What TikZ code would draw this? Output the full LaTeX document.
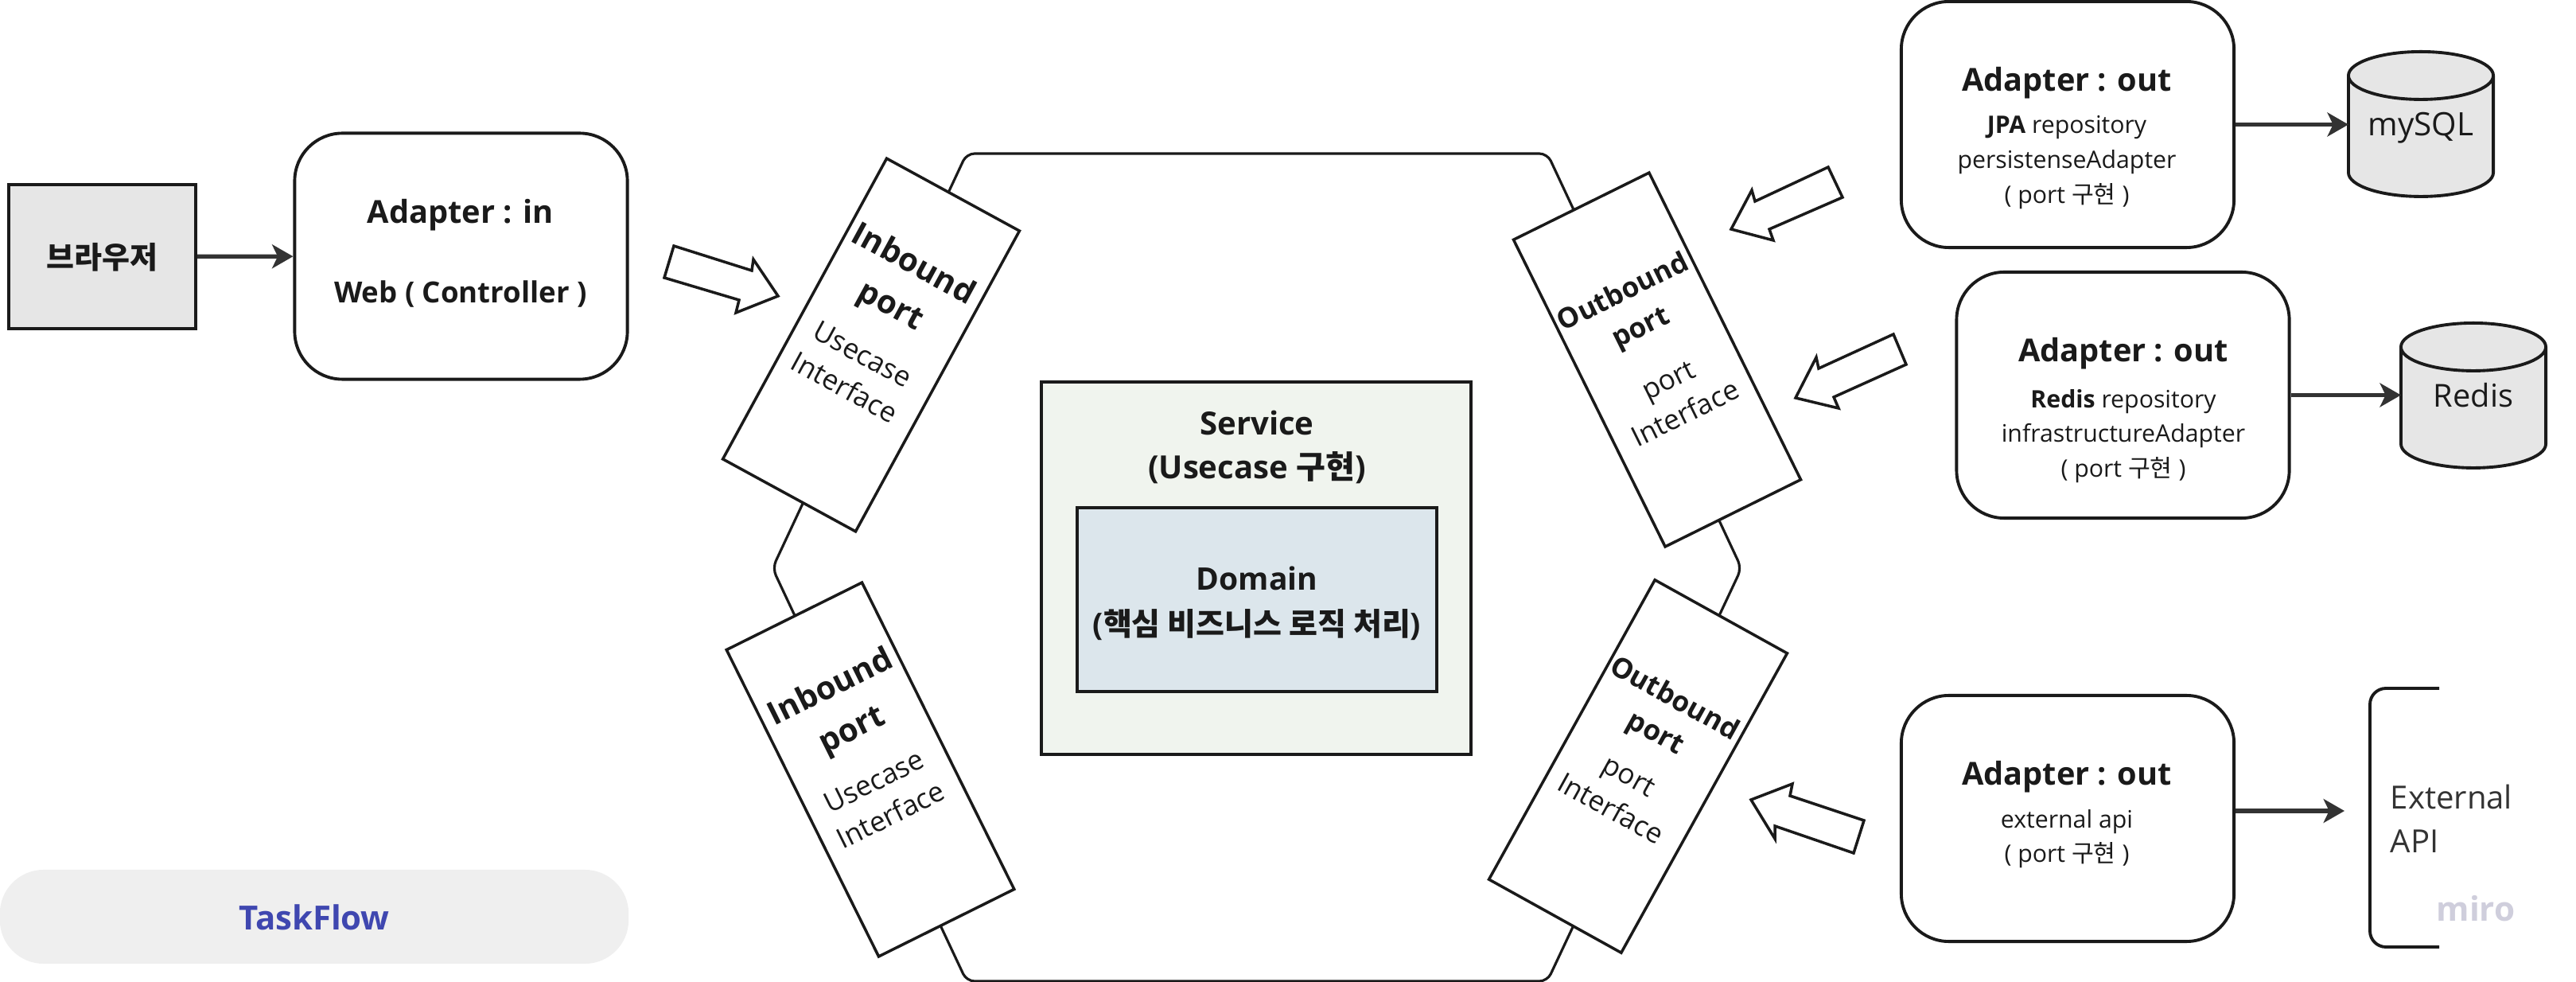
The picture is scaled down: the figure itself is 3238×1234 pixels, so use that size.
\documentclass[tikz,border=0pt]{standalone}
\usepackage{fontspec}
\setmainfont{Open Sans}
\newfontfamily\krfont{Noto Sans CJK KR}
\newcommand{\kr}[1]{{\krfont #1}}
\usetikzlibrary{arrows.meta}
\definecolor{inkgray}{HTML}{1A1A1A}
\definecolor{linegray}{HTML}{333333}
\definecolor{boxgray}{HTML}{E6E6E6}
\definecolor{servicefill}{HTML}{F0F4EE}
\definecolor{domainfill}{HTML}{DCE6EC}
\definecolor{pillfill}{HTML}{EFEFEF}
\definecolor{pilltext}{HTML}{3F47B0}
\definecolor{mirotext}{HTML}{CFCEDC}
\tikzset{
    adapterbox/.style={draw=inkgray, line width=1.1pt, fill=white, rounded corners=0.6cm,
        minimum width=4.18cm, minimum height=3.09cm, inner sep=0pt},
    portbox/.style={draw=inkgray, line width=1pt, fill=white,
        minimum width=1.9cm, minimum height=4.3cm, inner sep=0pt},
    flatbox/.style={draw=inkgray, line width=1.1pt, inner sep=0pt},
    dbspot/.style={minimum width=1.82cm, minimum height=1.82cm, inner sep=0pt, outer sep=0pt},
    dbline/.style={draw=inkgray, line width=1.1pt},
    headtext/.style={text=inkgray, inner sep=0pt, font=\fontsize{11.3}{15}\selectfont\bfseries},
    subtext/.style={text=inkgray, inner sep=0pt, align=center, font=\fontsize{8.6}{12.4}\selectfont},
    portbold/.style={text=inkgray, inner sep=0pt, align=center, font=\fontsize{11.5}{17}\selectfont\bfseries},
    portplain/.style={text=inkgray, inner sep=0pt, align=center, font=\fontsize{10}{13.5}\selectfont},
    link/.style={draw=linegray, line width=1.5pt, -{Stealth[length=7.5pt,width=8.5pt,inset=2pt]}},
    hollow/.style={draw=inkgray, line width=1pt, fill=white, line join=miter},
}
\begin{document}
\begin{tikzpicture}[x=0.01cm, y=-0.01cm]
    \useasboundingbox (0,0) rectangle (3238,1234);

    % hexagon
    \draw[draw=inkgray, line width=0.9pt, rounded corners=0.1cm]
        (1215,193) -- (1945,193) -- (2189,714) -- (1945,1233) -- (1215,1233) -- (971,714) -- cycle;

    % browser and inbound adapter
    \node[flatbox, fill=boxgray, minimum width=2.35cm, minimum height=1.81cm] (browser) at (128.5,322.5) {};
    \node[font=\fontsize{10.8}{12}\selectfont\bfseries, text=inkgray, inner sep=0pt] (browsertext) at (128.5,323) {\kr{브라우저}};
    \node[adapterbox] (adapterin) at (579.5,322) {};
    \node[headtext] (adapterinhead) at (579,270) {Adapter : in};
    \node[font=\fontsize{10.4}{12}\selectfont\bfseries, text=inkgray, inner sep=0pt] (adapterinweb) at (579,370) {Web ( Controller )};
    \draw[link] (browser) -- (adapterin);

    % ports
    \node[portbox, rotate=-28.6] (inA) at (1095,433.5) {};
    \node[portbold, rotate=-28.6] (inAhead) at (1133,360) {Inbound\\port};
    \node[portplain, rotate=-28.6] (inAsub) at (1073,466) {Usecase\\Interface};

    \node[portbox, rotate=26.4] (inB) at (1094,967) {};
    \node[portbold, rotate=26.4] (inBhead) at (1058,892) {Inbound\\port};
    \node[portplain, rotate=26.4] (inBsub) at (1109,1003) {Usecase\\Interface};

    \node[portbox, rotate=26.3] (outportA) at (2083,452) {};
    \node[portbold, font=\fontsize{10}{14}\selectfont\bfseries, rotate=26.3] (outportAhead) at (2052,391) {Outbound\\port};
    \node[portplain, rotate=26.3] (outportAsub) at (2108,499) {port\\Interface};

    \node[portbox, rotate=-29] (outportB) at (2059,963) {};
    \node[portbold, font=\fontsize{10}{14}\selectfont\bfseries, rotate=-29] (outportBhead) at (2092,901) {Outbound\\port};
    \node[portplain, rotate=-29] (outportBsub) at (2036,996) {port\\Interface};

    % service and domain
    \node[flatbox, fill=servicefill, minimum width=5.4cm, minimum height=4.68cm] (service) at (1579,714) {};
    \node[flatbox, fill=domainfill, minimum width=4.52cm, minimum height=2.31cm] (domain) at (1580,753.5) {};
    \node[headtext, align=center, font=\fontsize{11.4}{15.6}\selectfont\bfseries] (servicetext) at (1580,562) {Service\\(Usecase \kr{구현})};
    \node[headtext, align=center, font=\fontsize{11.1}{16.2}\selectfont\bfseries] (domaintext) at (1580,758) {Domain\\(\kr{핵심 비즈니스 로직 처리})};

    % block arrows
    \draw[hollow] (847,309) -- (945,340) -- (947,326) -- (978,372) -- (925,393) -- (929,377) -- (835,349) -- cycle;
    \draw[hollow] (2298,210) -- (2316,248) -- (2224,288) -- (2229,302) -- (2176,288) -- (2202,239) -- (2206,253) -- cycle;
    \draw[hollow] (2380,420) -- (2396,458) -- (2305,499) -- (2311,513) -- (2257,500) -- (2283,449) -- (2286,463) -- cycle;
    \draw[hollow] (2343,1031) -- (2330,1072) -- (2231,1038) -- (2231,1054) -- (2201,1005) -- (2253,985) -- (2250,1000) -- cycle;

    % outbound adapters
    \node[adapterbox] (outA) at (2599,156.5) {};
    \node[headtext] (outAhead) at (2598,104) {Adapter : out};
    \node[subtext] (outAsub) at (2598,204) {\textbf{JPA} repository\\persistenseAdapter\\( port \kr{구현} )};

    \node[adapterbox] (outB) at (2668.5,496.5) {};
    \node[headtext] (outBhead) at (2669,444) {Adapter : out};
    \node[subtext] (outBsub) at (2669,548) {\textbf{Redis} repository\\infrastructureAdapter\\( port \kr{구현} )};

    \node[adapterbox] (outC) at (2599,1028.5) {};
    \node[headtext] (outChead) at (2598,976) {Adapter : out};
    \node[subtext] (outCsub) at (2598,1054) {external api\\( port \kr{구현} )};

    % stores
    \node[dbspot] (mysql) at (3043,156) {};
    \node[dbspot] (redis) at (3109,497) {};
    \foreach \store in {mysql,redis}
        \draw[dbline, fill=boxgray] (\store.north west) ++(0,30) -- ++(0,122)
            arc[start angle=180, end angle=360, x radius=0.91cm, y radius=0.3cm] -- ++(0,-122)
            arc[start angle=0, end angle=180, x radius=0.91cm, y radius=0.3cm]
            arc[start angle=180, end angle=360, x radius=0.91cm, y radius=0.3cm];
    \node[font=\fontsize{11.5}{14}\selectfont, text=inkgray, inner sep=0pt] (mysqltext) at (3043,161) {mySQL};
    \node[font=\fontsize{11.3}{14}\selectfont, text=inkgray, inner sep=0pt] (redistext) at (3109,497) {Redis};

    % external api
    \coordinate (apiend) at (2947,1019);
    \draw[draw=inkgray, line width=1.1pt, rounded corners=0.2cm] (3066,865) -- (2979,865) -- (2979,1190) -- (3066,1190);
    \node[font=\fontsize{11.4}{15.6}\selectfont, text=linegray, inner sep=0pt, align=left, anchor=west] (apitext) at (3004,1029) {External\\API};
    \node[font=\fontsize{12}{14}\selectfont\bfseries, text=mirotext, inner sep=0pt] (miro) at (3112,1142) {miro};

    \draw[link] (outA.east) -- (mysql.west |- outA.east);
    \draw[link] (outB.east) -- (redis.west |- outB.east);
    \draw[link] (outC.east |- apiend) -- (apiend);

    % title pill
    \node[fill=pillfill, rounded corners=0.55cm, minimum width=7.9cm, minimum height=1.18cm, inner sep=0pt] (pill) at (395,1152) {};
    \node[font=\fontsize{11.9}{14}\selectfont\bfseries, text=pilltext, inner sep=0pt] (pilltext) at (395,1153) {TaskFlow};
\end{tikzpicture}
\end{document}
